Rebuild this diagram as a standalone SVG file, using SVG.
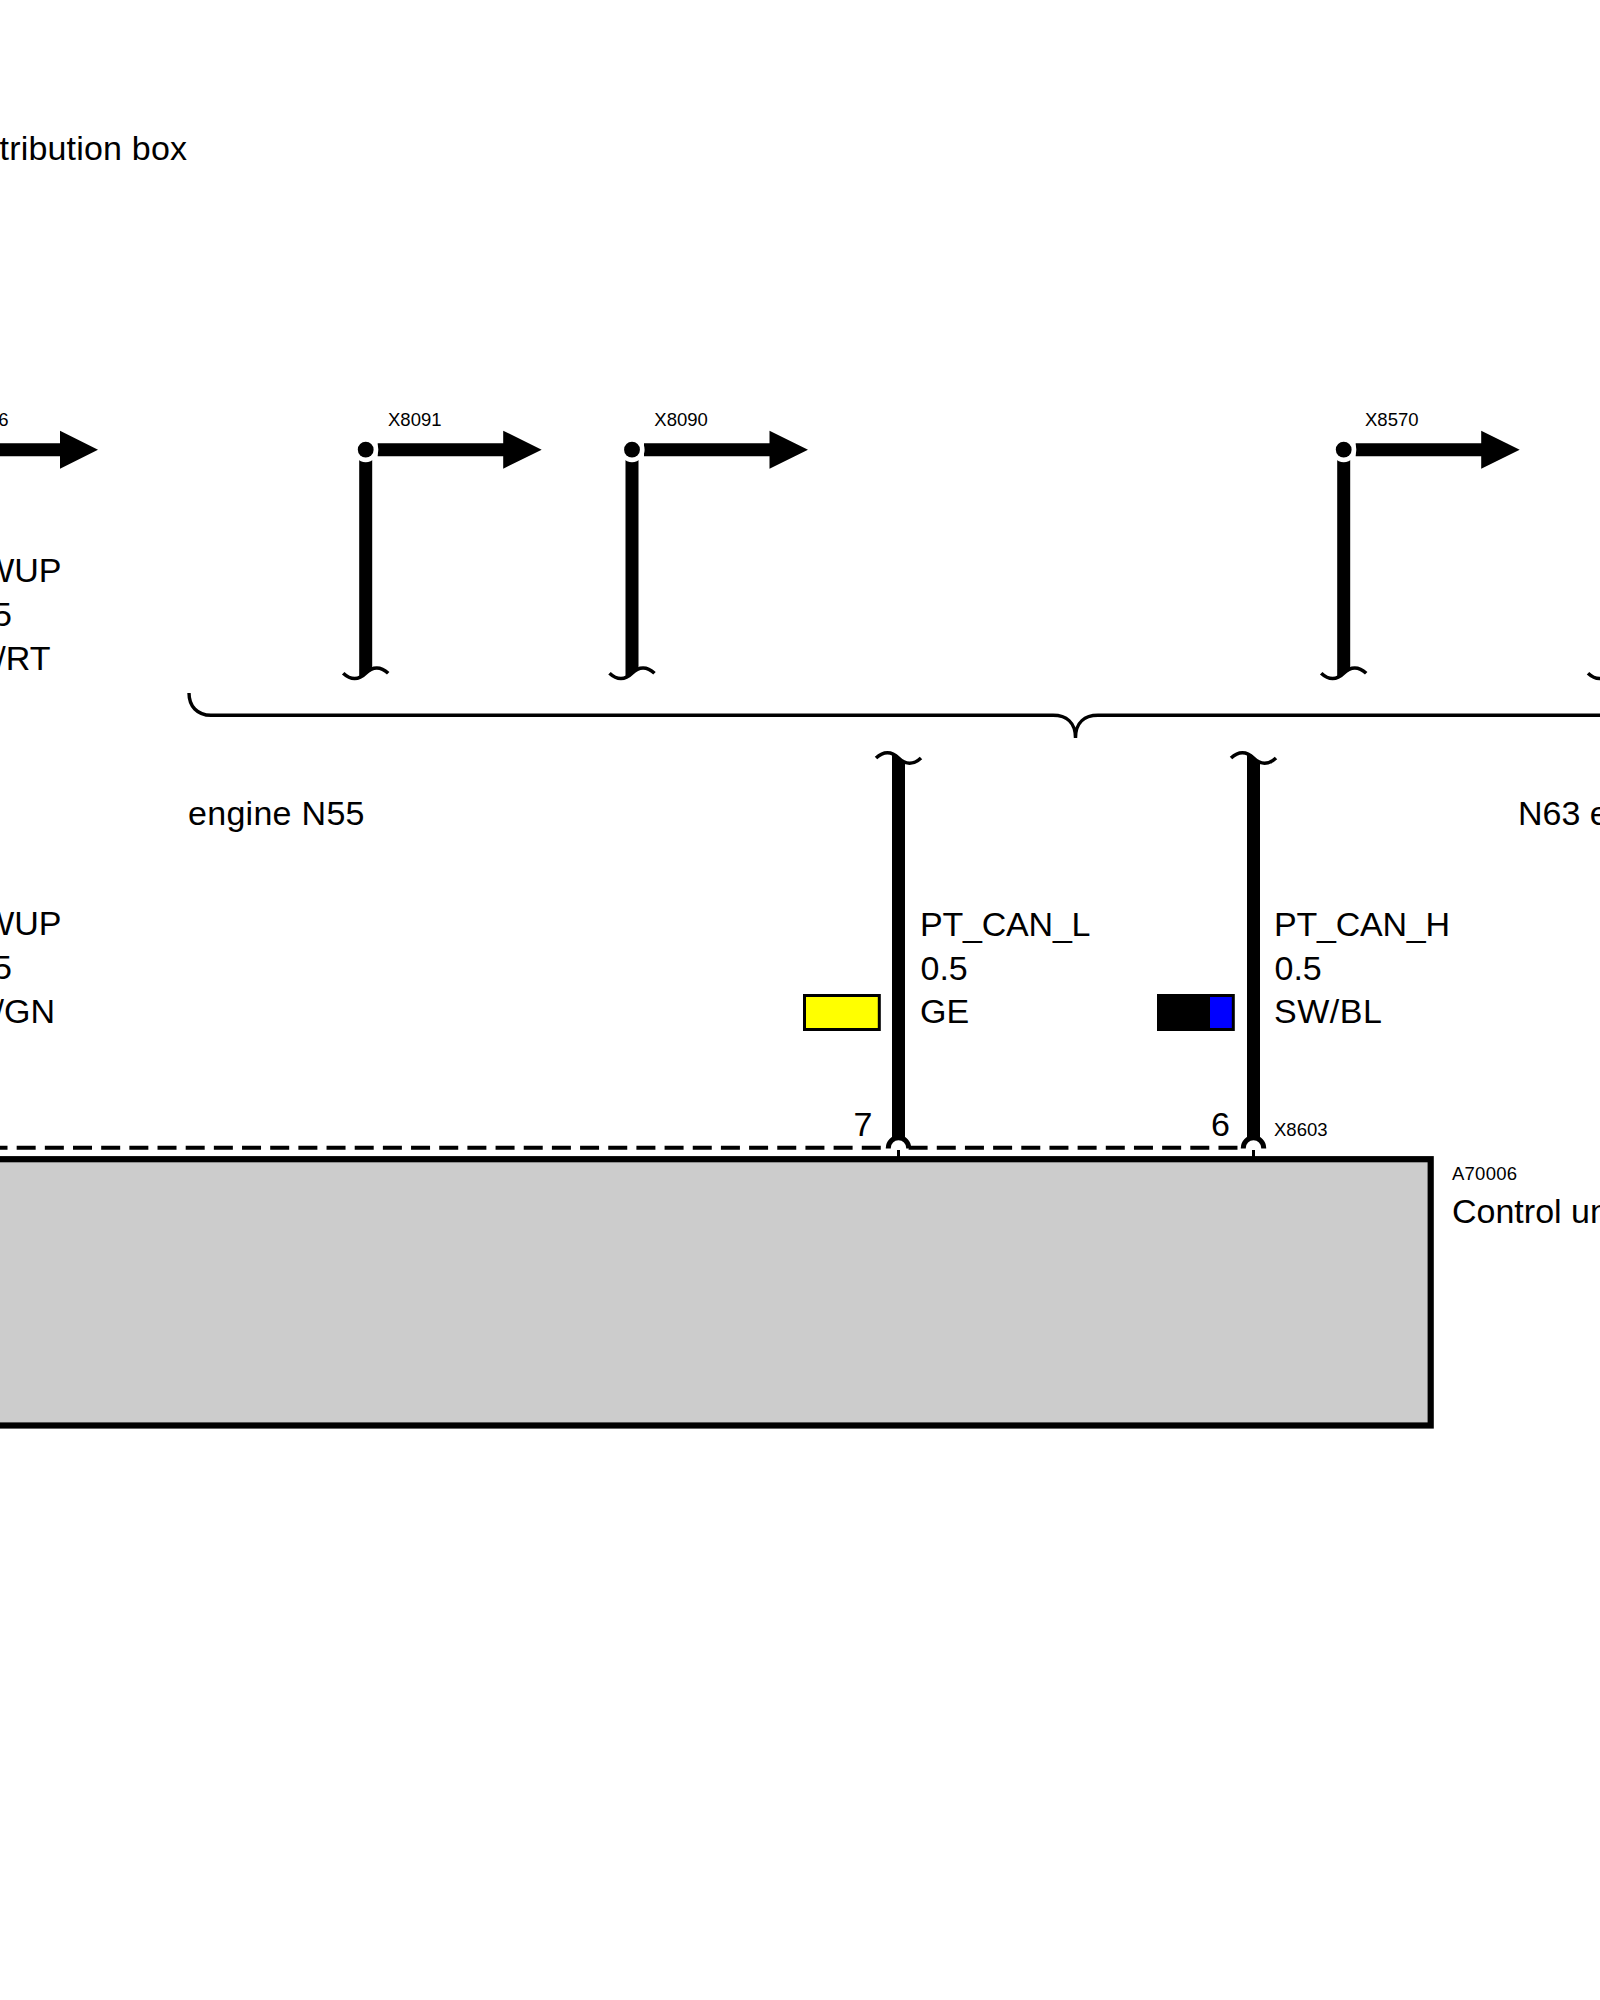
<svg xmlns="http://www.w3.org/2000/svg" width="1600" height="2000" viewBox="0 0 1600 2000">
<style>
text{font-family:"Liberation Sans",Arial,sans-serif;fill:#000}
.l{font-size:34px}
.s{font-size:18.5px}
.e{text-anchor:end}
.wave{fill:none;stroke:#000;stroke-width:3.6}
.wire{fill:#000}
.brace{fill:none;stroke:#000;stroke-width:3.4}
.dash{stroke:#000;stroke-width:4;fill:none;stroke-dasharray:19 9.17}
.pin{fill:#fff;stroke:#000;stroke-width:5}
.stub{stroke:#000;stroke-width:3}
</style>
<defs>
<path id="wd" class="wave" d="M-22.5,0 C-15,7 -7,7 0,0 C7,-7 15,-7 22.5,0"/>
<path id="wu" class="wave" d="M-22.5,0 C-15,-7 -7,-7 0,0 C7,7 15,7 22.5,0"/>
<path id="ar" class="wire" d="M12,-6.5 H137.5 V-19 L176,0 L137.5,19 V6.5 H12 Z"/>
<path id="pn" class="pin" d="M-10.2,0.5 V0 A10.2,10.2 0 0 1 10.2,0 V0.5"/>
</defs>
<g id="connectors">
<path class="wire" d="M0,443.2 H60 V430.7 L98,449.7 L60,468.7 V456.2 H0 Z"/>
<use href="#ar" x="365.7" y="449.7"/>
<use href="#ar" x="632" y="449.7"/>
<use href="#ar" x="1343.7" y="449.7"/>
<path class="wire" d="M359.2,449.7 H372.2 V669 L359.2,677 Z"/>
<path class="wire" d="M625.5,449.7 H638.5 V669 L625.5,677 Z"/>
<path class="wire" d="M1337.2,449.7 H1350.2 V669 L1337.2,677 Z"/>
<use href="#wd" x="365.7" y="673.3"/>
<use href="#wd" x="632" y="673.3"/>
<use href="#wd" x="1343.7" y="673.3"/>
<use href="#wd" x="1610.5" y="673.3"/>
<path class="brace" d="M189,693 C189,706 197,715.3 211,715.3 H1053 C1066,715.3 1075.5,722 1075.5,738 C1075.5,722 1085,715.3 1098,715.3 H1600"/>
<path class="wire" d="M892,754 L905,762 V1140 H892 Z"/>
<path class="wire" d="M1247,754 L1260,762 V1140 H1247 Z"/>
<use href="#wu" x="898.5" y="758"/>
<use href="#wu" x="1253.5" y="758"/>
<path class="dash" d="M-11.5,1147.7 H881"/>
<path class="dash" d="M908.6,1147.7 H1238"/>
<use href="#pn" x="898.5" y="1148"/>
<use href="#pn" x="1253.5" y="1148"/>
<line class="stub" x1="898.5" y1="1150" x2="898.5" y2="1158"/>
<line class="stub" x1="1253.5" y1="1150" x2="1253.5" y2="1158"/>
</g>
<g id="title"><text class="l" x="-0.5" y="160" textLength="187.5">tribution box</text></g>
<g id="x8096"><text class="s e" x="8.5" y="425.7">6</text></g>
<g id="x8091"><circle cx="365.7" cy="449.7" r="12.6" fill="#fff"/><circle cx="365.7" cy="449.7" r="7.9"/><text class="s" x="388" y="425.7">X8091</text></g>
<g id="x8090"><circle cx="632" cy="449.7" r="12.6" fill="#fff"/><circle cx="632" cy="449.7" r="7.9"/><text class="s" x="654.3" y="425.7">X8090</text></g>
<g id="x8570"><circle cx="1343.7" cy="449.7" r="12.6" fill="#fff"/><circle cx="1343.7" cy="449.7" r="7.9"/><text class="s" x="1365" y="425.7">X8570</text></g>
<g id="label-left-top"><text class="l e" x="61.5" y="581.7">WUP</text><text class="l e" x="12" y="626">5</text><text class="l e" x="50.5" y="670">/RT</text></g>
<g id="label-left-bottom"><text class="l e" x="61.5" y="935">WUP</text><text class="l e" x="12" y="979">5</text><text class="l e" x="55" y="1023">/GN</text></g>
<g id="engine-n55"><text class="l" x="188" y="825" textLength="176.5">engine N55</text></g>
<g id="n63"><text class="l" x="1518" y="825">N63 e</text></g>
<g id="pt-can-l">
<text class="l" x="920" y="936" textLength="170.5">PT_CAN_L</text><text class="l" x="920.5" y="980">0.5</text><text class="l" x="920" y="1023">GE</text>
<rect x="804.5" y="995.5" width="74.8" height="34" fill="#ff0" stroke="#000" stroke-width="3"/>
<text class="l" x="853.5" y="1136">7</text>
</g>
<g id="pt-can-h">
<text class="l" x="1274" y="936" textLength="176">PT_CAN_H</text><text class="l" x="1274.5" y="980">0.5</text><text class="l" x="1274" y="1023" textLength="108">SW/BL</text>
<rect x="1158.5" y="995.5" width="74.8" height="34" fill="#00f" stroke="#000" stroke-width="3"/>
<rect x="1157" y="994" width="53" height="37"/>
<text class="l" x="1211" y="1136">6</text>
<text class="s" x="1274" y="1136">X8603</text>
</g>
<g id="a70006">
<rect x="-10" y="1159.2" width="1440.7" height="266.3" fill="#ccc" stroke="#000" stroke-width="6.2"/>
<text class="s" x="1452" y="1180" textLength="65">A70006</text>
<text class="l" x="1452" y="1223">Control un</text>
</g>
</svg>
